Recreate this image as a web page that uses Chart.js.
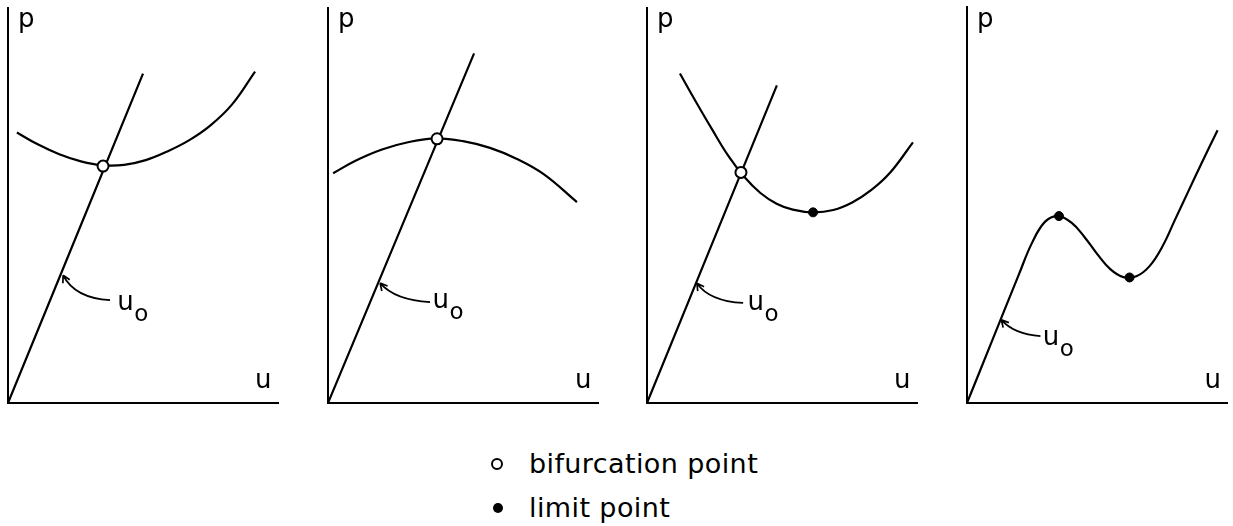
<!DOCTYPE html>
<html>
<head>
<meta charset="utf-8">
<script src="https://cdn.jsdelivr.net/npm/chart.js@4/dist/chart.umd.min.js"></script>
<style>
    body { margin: 0; background: #fff; overflow: hidden; }
    #wrap { position: relative; width: 1233px; height: 526px; }
    canvas { position: absolute; top: 0; }
    .key { position: absolute; left: 529px; font: 27px "DejaVu Sans"; line-height: 27px; letter-spacing: 0.4px; color: #000; white-space: nowrap; }
    .mark { position: absolute; border-radius: 50%; box-sizing: border-box; }
</style>
</head>
<body>
<div id="wrap">
    <canvas id="panel1" width="286" height="420" style="left:0px"></canvas>
    <canvas id="panel2" width="286" height="420" style="left:320px"></canvas>
    <canvas id="panel3" width="286" height="420" style="left:639px"></canvas>
    <canvas id="panel4" width="274" height="420" style="left:959px"></canvas>

    <div class="mark" style="left:491px; top:458px; width:12px; height:12px; border:2px solid #000;"></div>
    <div class="key" style="top:450px">bifurcation point</div>
    <div class="mark" style="left:493px; top:503px; width:10px; height:10px; background:#000;"></div>
    <div class="key" style="top:494px">limit point</div>
</div>

<script>
const ink = '#000';

// panel 1: u0 path and a branch with a minimum
const line1U = [0, 5.0];
const line1P = [0, 8.33];
const curve1U = [0.33, 1.1, 1.9, 2.7, 3.5, 4.3, 5.1, 5.9, 6.7, 7.5, 8.3, 9.15];
const curve1P = [6.84, 6.54, 6.29, 6.11, 6.01, 6.02, 6.14, 6.36, 6.64, 7.02, 7.55, 8.38];
const bif1 = [3.52, 5.99];

// panel 2: branch with a maximum
const line2U = [0, 5.41];
const line2P = [0, 8.84];
const curve2U = [0.19, 1.0, 2.0, 3.0, 4.0, 5.0, 6.0, 7.0, 8.0, 9.22];
const curve2P = [5.81, 6.12, 6.41, 6.60, 6.69, 6.62, 6.45, 6.17, 5.78, 5.08];
const bif2 = [4.04, 6.68];

// panel 3: bifurcation followed by a limit point
const line3U = [0, 4.81];
const line3P = [0, 8.03];
const curve3U = [1.22, 1.8, 2.4, 3.0, 3.6, 4.2, 4.8, 5.4, 6.15, 6.9, 7.6, 8.3, 9.0, 9.85];
const curve3P = [8.33, 7.63, 6.93, 6.26, 5.72, 5.31, 5.04, 4.89, 4.82, 4.88, 5.07, 5.38, 5.82, 6.59];
const bif3 = [3.48, 5.83];
const lim3 = [6.15, 4.82];

// panel 4: snap-through path with two limit points
const curve4U = [0, 1.0, 2.0, 2.5, 3.0, 3.5, 4.0, 4.5, 5.0, 5.5, 6.0, 6.5, 7.0, 7.5, 8.0, 8.5, 9.0, 9.62];
const curve4P = [0, 1.63, 3.26, 4.05, 4.58, 4.72, 4.56, 4.2, 3.76, 3.38, 3.18, 3.2, 3.45, 3.95, 4.65, 5.35, 6.05, 6.89];
const lim4U = [3.53, 6.24];
const lim4P = [4.72, 3.17];

// "u0" arrows: tip, bend, tail and label position (data units)
const arrowTips = [[2.04, 3.23], [1.93, 3.03], [1.85, 3.03], [1.32, 2.10]];
const arrowBends = [[2.48, 2.65], [2.48, 2.60], [2.30, 2.58], [1.80, 1.74]];
const arrowTails = [[3.78, 2.60], [3.78, 2.55], [3.56, 2.53], [2.82, 1.69]];
const labelSpots = [[4.05, 2.35], [3.87, 2.40], [3.72, 2.35], [2.91, 1.46]];

function toPoints(us, ps)
{
    return us.map((u, i) => ({ x: u, y: ps[i] }));
}

function pathSet(us, ps)
{
    return {
        data: toPoints(us, ps),
        showLine: true,
        borderColor: ink,
        borderWidth: 2.2,
        pointRadius: 0,
        tension: 0.4,
        fill: false
    };
}

function openDots(us, ps)
{
    return {
        data: toPoints(us, ps),
        showLine: false,
        pointRadius: 5.5,
        pointBackgroundColor: '#fff',
        pointBorderColor: ink,
        pointBorderWidth: 2
    };
}

function fullDots(us, ps)
{
    return {
        data: toPoints(us, ps),
        showLine: false,
        pointRadius: 4.5,
        pointBackgroundColor: ink,
        pointBorderColor: ink,
        pointBorderWidth: 1
    };
}

const sketchPlugin = {
    id: 'sketch',
    afterDatasetsDraw(chart, args, opts)
    {
        const { ctx, chartArea } = chart;
        const sx = chart.scales.x, sy = chart.scales.y;
        const px = v => [sx.getPixelForValue(v[0]), sy.getPixelForValue(v[1])];
        const i = opts.index;

        ctx.save();
        ctx.fillStyle = ink;
        ctx.strokeStyle = ink;
        ctx.textBaseline = 'alphabetic';
        ctx.font = '26px "DejaVu Sans"';
        ctx.fillText('p', chartArea.left + 10, 27);
        ctx.fillText('u', chartArea.right - 23, 388);

        const tip = px(arrowTips[i]);
        const bend = px(arrowBends[i]);
        const tail = px(arrowTails[i]);
        ctx.lineWidth = 1.7;
        ctx.beginPath();
        ctx.moveTo(tail[0], tail[1]);
        ctx.quadraticCurveTo(bend[0], bend[1], tip[0], tip[1]);
        const ang = Math.atan2(tip[1] - bend[1], tip[0] - bend[0]);
        [-0.5, 0.5].forEach(d =>
        {
            ctx.moveTo(tip[0], tip[1]);
            ctx.lineTo(tip[0] - 8 * Math.cos(ang + d), tip[1] - 8 * Math.sin(ang + d));
        });
        ctx.stroke();

        const lab = px(labelSpots[i]);
        ctx.fillText('u', lab[0], lab[1]);
        ctx.font = '23px "DejaVu Sans"';
        ctx.fillText('o', lab[0] + 17, lab[1] + 11);
        ctx.restore();
    }
};

function makePanel(id, index, datasets, padRight)
{
    const axis = {
        type: 'linear',
        min: 0,
        max: 10,
        grid: { display: false, drawTicks: false },
        ticks: { display: false },
        border: { display: true, color: ink, width: 2 }
    };
    new Chart(document.getElementById(id), {
        type: 'scatter',
        data: { datasets: datasets },
        options: {
            responsive: false,
            animation: false,
            events: [],
            layout: { padding: { left: 8, right: padRight, top: 7, bottom: 17 } },
            scales: { x: { ...axis }, y: { ...axis } },
            plugins: {
                legend: { display: false },
                tooltip: { enabled: false },
                sketch: { index: index }
            }
        },
        plugins: [sketchPlugin]
    });
}

makePanel('panel1', 0, [
    openDots([bif1[0]], [bif1[1]]),
    pathSet(line1U, line1P),
    pathSet(curve1U, curve1P)
], 8);

makePanel('panel2', 1, [
    openDots([bif2[0]], [bif2[1]]),
    pathSet(line2U, line2P),
    pathSet(curve2U, curve2P)
], 8);

makePanel('panel3', 2, [
    openDots([bif3[0]], [bif3[1]]),
    fullDots([lim3[0]], [lim3[1]]),
    pathSet(line3U, line3P),
    pathSet(curve3U, curve3P)
], 8);

makePanel('panel4', 3, [
    fullDots(lim4U, lim4P),
    pathSet(curve4U, curve4P)
], 0);
</script>
</body>
</html>
